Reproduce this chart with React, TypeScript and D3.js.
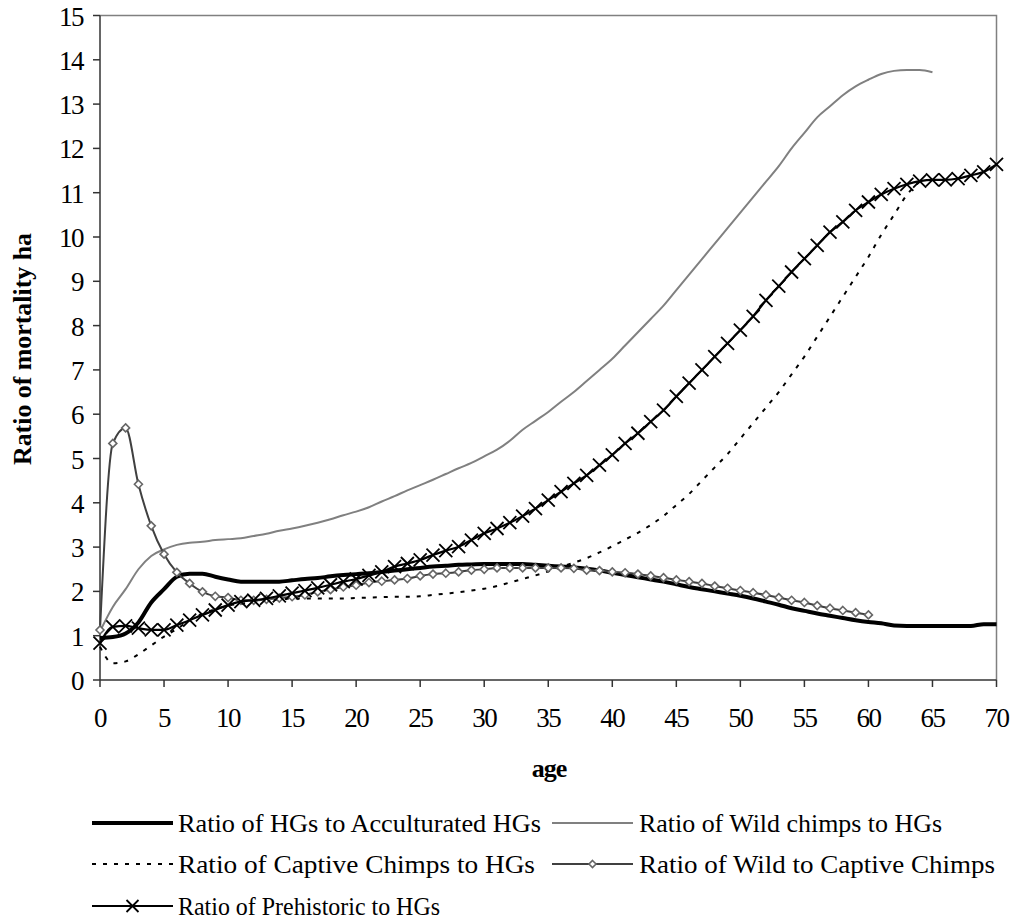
import React from "react";
import * as d3 from "d3";

const ageTicks = [0, 5, 10, 15, 20, 25, 30, 35, 40, 45, 50, 55, 60, 65, 70];
const yTicks = [0, 1, 2, 3, 4, 5, 6, 7, 8, 9, 10, 11, 12, 13, 14, 15];

// Ratio of HGs to Acculturated HGs (ages 0..70)
const hgAccult = [
  0.95, 0.97, 1.05, 1.3, 1.75, 2.05, 2.33, 2.4, 2.4, 2.33,
  2.27, 2.22, 2.22, 2.22, 2.22, 2.25, 2.28, 2.3, 2.34, 2.37,
  2.39, 2.41, 2.44, 2.47, 2.5, 2.53, 2.56, 2.58, 2.6, 2.61,
  2.62, 2.62, 2.62, 2.62, 2.6, 2.58, 2.56, 2.54, 2.51, 2.47,
  2.42, 2.37, 2.32, 2.27, 2.22, 2.16, 2.1, 2.05, 2.0, 1.95,
  1.9, 1.84, 1.77, 1.7, 1.62, 1.56, 1.5, 1.45, 1.4, 1.35,
  1.31, 1.28, 1.23, 1.22, 1.22, 1.22, 1.22, 1.22, 1.22, 1.26,
  1.26,
];

// Ratio of Wild chimps to HGs (ages 0..65)
const wildChimps = [
  1.1, 1.65, 2.05, 2.5, 2.8, 2.95, 3.05, 3.1, 3.12, 3.16,
  3.18, 3.2, 3.25, 3.3, 3.37, 3.42, 3.48, 3.55, 3.63, 3.72,
  3.8, 3.9, 4.03, 4.15, 4.28, 4.4, 4.52, 4.65, 4.78, 4.9,
  5.05, 5.2, 5.4, 5.65, 5.85, 6.05, 6.28, 6.5, 6.75, 7.0,
  7.25, 7.55, 7.85, 8.15, 8.45, 8.8, 9.15, 9.5, 9.85, 10.2,
  10.55, 10.9, 11.25, 11.6, 12.0, 12.35, 12.7, 12.95, 13.2, 13.4,
  13.55, 13.68, 13.75, 13.77, 13.77, 13.72,
];

// Ratio of Captive Chimps to HGs (ages 0..64)
const captiveChimps = [
  0.75, 0.38, 0.42, 0.58, 0.78, 0.98, 1.15, 1.35, 1.5, 1.6,
  1.68, 1.72, 1.76, 1.8, 1.82, 1.84, 1.84, 1.84, 1.84, 1.84,
  1.85, 1.86, 1.87, 1.88, 1.88, 1.89, 1.92, 1.95, 1.98, 2.02,
  2.06, 2.12, 2.2, 2.28, 2.36, 2.45, 2.55, 2.65, 2.75, 2.88,
  3.02, 3.17, 3.32, 3.5, 3.7, 3.95, 4.2, 4.5, 4.8, 5.1,
  5.45, 5.8, 6.15, 6.5, 6.9, 7.3, 7.75, 8.2, 8.65, 9.1,
  9.55, 10.05, 10.5, 10.95, 11.25,
];

// Ratio of Wild to Captive Chimps (ages 0..60)
const wildToCaptive = [
  1.13, 5.34, 5.69, 4.42, 3.48, 2.84, 2.43, 2.18, 1.99, 1.89,
  1.86, 1.8, 1.8, 1.82, 1.85, 1.88, 1.92, 1.99, 2.04, 2.1,
  2.14, 2.2, 2.23, 2.26, 2.29, 2.35, 2.39, 2.41, 2.44, 2.48,
  2.5, 2.53, 2.53, 2.53, 2.53, 2.53, 2.53, 2.52, 2.48, 2.47,
  2.44, 2.42, 2.39, 2.35, 2.31, 2.26, 2.22, 2.18, 2.12, 2.07,
  2.02, 1.97, 1.92, 1.86, 1.8, 1.75, 1.68, 1.62, 1.57, 1.52,
  1.47,
];

// Ratio of Prehistoric to HGs (ages 0..70)
const prehistoric = [
  0.83, 1.2, 1.22, 1.17, 1.13, 1.13, 1.24, 1.35, 1.47, 1.58,
  1.69, 1.77, 1.8, 1.84, 1.9, 1.96, 2.02, 2.08, 2.15, 2.22,
  2.28, 2.36, 2.44, 2.56, 2.63, 2.71, 2.82, 2.92, 3.01, 3.16,
  3.31, 3.42, 3.55, 3.7, 3.87, 4.06, 4.25, 4.44, 4.62, 4.85,
  5.08, 5.34, 5.57, 5.83, 6.09, 6.4, 6.7, 7.0, 7.3, 7.6,
  7.9, 8.21, 8.57, 8.89, 9.21, 9.51, 9.81, 10.11, 10.34, 10.6,
  10.79, 10.96, 11.09, 11.19, 11.26, 11.29, 11.29, 11.32, 11.39, 11.47,
  11.64,
];

const legendLabels = [
  "Ratio of HGs to Acculturated HGs",
  "Ratio of Wild chimps to HGs",
  "Ratio of Captive Chimps to HGs",
  "Ratio of Wild to Captive Chimps",
  "Ratio of Prehistoric to HGs",
];

const FONT = "'Liberation Serif', 'Times New Roman', serif";

const x = d3.scaleLinear().domain([0, 70]).range([100, 996.5]);
const y = d3.scaleLinear().domain([0, 15]).range([680, 15.5]);

const line = d3
  .line<number>()
  .x((_, i) => x(i))
  .y((d) => y(d))
  .curve(d3.curveMonotoneX);

function XMark({ cx, cy, s = 6.5 }: { cx: number; cy: number; s?: number }) {
  return (
    <path
      d={`M${cx - s},${cy - s}L${cx + s},${cy + s}M${cx - s},${cy + s}L${cx + s},${cy - s}`}
      stroke="#000"
      strokeWidth={1.8}
      fill="none"
    />
  );
}

function Diamond({ cx, cy, s = 4 }: { cx: number; cy: number; s?: number }) {
  return (
    <path
      d={`M${cx},${cy - s}L${cx + s},${cy}L${cx},${cy + s}L${cx - s},${cy}Z`}
      stroke="#666"
      strokeWidth={1.6}
      fill="#fff"
    />
  );
}

function LegendText({ x0, y0, w, label }: { x0: number; y0: number; w: number; label: string }) {
  return (
    <text
      x={x0}
      y={y0}
      dominantBaseline="central"
      textLength={w}
      lengthAdjust="spacingAndGlyphs"
    >
      {label}
    </text>
  );
}

export default function App() {
  const legendRows = [823, 864, 906];
  const col1Line = [92, 173];
  const col2Line = [552, 633];
  const col1Text = 178;
  const col2Text = 639;
  const widths = [363, 303, 357, 356, 262];

  return (
    <svg
      width={1016}
      height={920}
      style={{ position: "absolute", left: 0, top: 0, background: "#fff" }}
      fontFamily={FONT}
    >
      <rect x={0} y={0} width={1016} height={920} fill="#fff" />
      {/* plot border top/right */}
      <path
        d={`M${x(0)},${y(15)}H${x(70)}V${y(0)}`}
        stroke="#808080"
        strokeWidth={1.5}
        fill="none"
      />
      {/* axes */}
      <line x1={x(0)} x2={x(0)} y1={y(0)} y2={y(15)} stroke="#333" strokeWidth={1.5} />
      <line x1={x(0)} x2={x(70)} y1={y(0)} y2={y(0)} stroke="#333" strokeWidth={1.5} />
      {yTicks.map((t) => (
        <g key={"y" + t}>
          <line x1={x(0) - 7} x2={x(0)} y1={y(t)} y2={y(t)} stroke="#333" strokeWidth={1.5} />
          <text
            x={83}
            y={y(t) + 1}
            textAnchor="end"
            dominantBaseline="central"
            fontSize={27}
            letterSpacing={-1.5}
            fill="#000"
          >
            {t}
          </text>
        </g>
      ))}
      {ageTicks.map((t) => (
        <g key={"x" + t}>
          <line x1={x(t)} x2={x(t)} y1={y(0)} y2={y(0) + 7} stroke="#333" strokeWidth={1.5} />
          <text
            x={x(t)}
            y={718}
            textAnchor="middle"
            dominantBaseline="central"
            fontSize={27}
            letterSpacing={-1.5}
            fill="#000"
          >
            {t}
          </text>
        </g>
      ))}
      <text
        x={549}
        y={768}
        textAnchor="middle"
        dominantBaseline="central"
        fontSize={26}
        fontWeight="bold"
        letterSpacing={-1}
        fill="#000"
      >
        age
      </text>
      <text
        transform="translate(22,349) rotate(-90)"
        textAnchor="middle"
        dominantBaseline="central"
        fontSize={26}
        fontWeight="bold"
        textLength={232}
        lengthAdjust="spacingAndGlyphs"
        fill="#000"
      >
        Ratio of mortality ha
      </text>

      {/* series */}
      <path d={line(wildChimps) || ""} stroke="#808080" strokeWidth={2} fill="none" />
      <path
        d={line(captiveChimps) || ""}
        stroke="#000"
        strokeWidth={2}
        strokeDasharray="4,7"
        fill="none"
      />
      <path d={line(hgAccult) || ""} stroke="#000" strokeWidth={4} fill="none" />
      <path d={line(wildToCaptive) || ""} stroke="#404040" strokeWidth={2} fill="none" />
      {wildToCaptive.map((v, i) => (
        <Diamond key={"d" + i} cx={x(i)} cy={y(v)} />
      ))}
      <path d={line(prehistoric) || ""} stroke="#000" strokeWidth={2.2} fill="none" />
      {prehistoric.map((v, i) => (
        <XMark key={"x" + i} cx={x(i)} cy={y(v)} />
      ))}

      {/* legend */}
      <g fontSize={26} fill="#000">
        <line x1={col1Line[0]} x2={col1Line[1]} y1={legendRows[0]} y2={legendRows[0]} stroke="#000" strokeWidth={4} />
        <LegendText x0={col1Text} y0={legendRows[0]} w={widths[0]} label={legendLabels[0]} />
        <line x1={col2Line[0]} x2={col2Line[1]} y1={legendRows[0]} y2={legendRows[0]} stroke="#808080" strokeWidth={2} />
        <LegendText x0={col2Text} y0={legendRows[0]} w={widths[1]} label={legendLabels[1]} />
        <line
          x1={col1Line[0]}
          x2={col1Line[1]}
          y1={legendRows[1]}
          y2={legendRows[1]}
          stroke="#000"
          strokeWidth={2}
          strokeDasharray="4,7"
        />
        <LegendText x0={col1Text} y0={legendRows[1]} w={widths[2]} label={legendLabels[2]} />
        <line x1={col2Line[0]} x2={col2Line[1]} y1={legendRows[1]} y2={legendRows[1]} stroke="#404040" strokeWidth={2} />
        <Diamond cx={(col2Line[0] + col2Line[1]) / 2} cy={legendRows[1]} s={3.5} />
        <LegendText x0={col2Text} y0={legendRows[1]} w={widths[3]} label={legendLabels[3]} />
        <line x1={col1Line[0]} x2={col1Line[1]} y1={legendRows[2]} y2={legendRows[2]} stroke="#000" strokeWidth={2} />
        <XMark cx={(col1Line[0] + col1Line[1]) / 2} cy={legendRows[2]} s={6} />
        <LegendText x0={col1Text} y0={legendRows[2]} w={widths[4]} label={legendLabels[4]} />
      </g>
    </svg>
  );
}
